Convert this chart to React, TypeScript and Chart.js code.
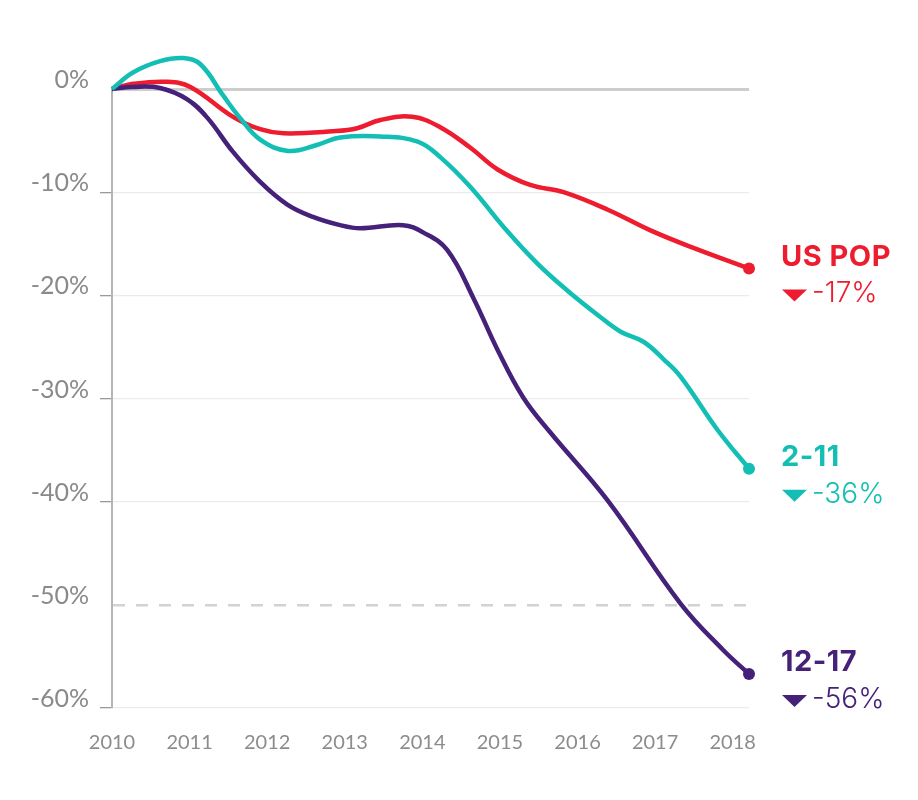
import { useEffect, useRef } from 'react';
import { Chart, registerables } from 'chart.js';

Chart.register(...registerables);

const YEARS = [2010, 2011, 2012, 2013, 2014, 2015, 2016, 2017, 2018];
const X_MIN = 2010;
const X_MAX = 2018.21;
const Y_MIN = -60;
const Y_MAX = 0;

const SERIES_NAMES = ['2-11', '12-17', 'US POP'];
const CHANGE_LABELS = ['-36%', '-56%', '-17%'];
const COLORS = ['#13BFB4', '#45217A', '#ED1C2E'];

const KIDS_X = [2010, 2010.27, 2010.62, 2010.92, 2011.14, 2011.43, 2011.65, 2011.91, 2012.27, 2012.65, 2012.94, 2013.46, 2013.94, 2014.23, 2014.62, 2015.05, 2015.48, 2015.91, 2016.26, 2016.55, 2016.85, 2017.11, 2017.33, 2017.81, 2018.21];
const KIDS_Y = [0, 1.6, 2.7, 3.0, 2.4, -0.6, -2.8, -4.9, -6.0, -5.4, -4.7, -4.6, -5.1, -6.6, -9.5, -13.4, -16.9, -19.8, -21.9, -23.5, -24.5, -26.2, -27.9, -33.1, -36.8];

const TEENS_X = [2010, 2010.27, 2010.62, 2010.97, 2011.23, 2011.56, 2011.91, 2012.26, 2012.59, 2012.94, 2013.2, 2013.75, 2014.01, 2014.32, 2014.66, 2014.97, 2015.3, 2015.65, 2016.39, 2017.33, 2017.88, 2018.21];
const TEENS_Y = [0, 0.2, 0.1, -1.0, -2.8, -6.1, -9.0, -11.2, -12.4, -13.2, -13.5, -13.2, -13.9, -15.6, -20.3, -25.3, -29.9, -33.3, -39.9, -49.9, -54.4, -56.7];

const POP_X = [2010, 2010.27, 2010.71, 2011.01, 2011.56, 2011.91, 2012.21, 2012.85, 2013.16, 2013.46, 2013.87, 2014.23, 2014.62, 2014.97, 2015.39, 2015.82, 2016.39, 2016.94, 2017.46, 2018.21];
const POP_Y = [0, 0.5, 0.7, 0.2, -2.7, -3.9, -4.3, -4.1, -3.8, -3.0, -2.7, -3.7, -5.7, -7.8, -9.3, -10.0, -11.7, -13.7, -15.3, -17.4];

const SERIES_X = [KIDS_X, TEENS_X, POP_X];
const SERIES_Y = [KIDS_Y, TEENS_Y, POP_Y];

const endLabels = {
  id: 'endLabels',
  afterDatasetsDraw(chart: any) {
    const ctx = chart.ctx;
    chart.data.datasets.forEach((ds: any, i: number) => {
      const meta = chart.getDatasetMeta(i);
      const pt = meta.data[meta.data.length - 1];
      if (!pt) return;
      const x = pt.x;
      const y = pt.y;
      const color = COLORS[i];
      ctx.save();
      ctx.fillStyle = color;
      ctx.textAlign = 'left';
      ctx.textBaseline = 'middle';
      (ctx as any).letterSpacing = '0.5px';
      ctx.font = '700 29px Inter, "Open Sans", sans-serif';
      ctx.fillText(SERIES_NAMES[i], x + 32, y - 11.5);
      (ctx as any).letterSpacing = '0px';
      ctx.beginPath();
      ctx.moveTo(x + 33, y + 21);
      ctx.lineTo(x + 58, y + 21);
      ctx.lineTo(x + 45.5, y + 33);
      ctx.closePath();
      ctx.fill();
      ctx.font = '300 28px Inter, "Open Sans", sans-serif';
      ctx.fillText(CHANGE_LABELS[i], x + 63, y + 25.5);
      ctx.restore();
    });
  },
};

export default function App() {
  const canvasRef = useRef<HTMLCanvasElement | null>(null);

  useEffect(() => {
    if (!canvasRef.current) return;
    const datasets = SERIES_NAMES.map((name, i) => {
      const xs = SERIES_X[i];
      const ys = SERIES_Y[i];
      const last = xs.length - 1;
      return {
        label: name,
        data: xs.map((x, j) => ({ x, y: ys[j] })),
        borderColor: COLORS[i],
        backgroundColor: COLORS[i],
        borderWidth: 4.5,
        tension: 0.4,
        pointRadius: (c: any) => (c.dataIndex === last ? 6 : 0),
        pointHoverRadius: 0,
        pointBorderWidth: 0,
        clip: false as const,
        fill: false,
      };
    });

    const chart = new Chart(canvasRef.current, {
      type: 'line',
      data: { datasets },
      plugins: [endLabels],
      options: {
        animation: false,
        responsive: true,
        maintainAspectRatio: false,
        layout: { padding: { left: 0, right: 169, top: 89, bottom: 0 } },
        plugins: {
          legend: { display: false },
          tooltip: { enabled: false },
        },
        scales: {
          x: {
            type: 'linear',
            min: X_MIN,
            max: X_MAX,
            afterBuildTicks: (scale: any) => {
              scale.ticks = YEARS.map((v) => ({ value: v }));
            },
            afterFit: (scale: any) => {
              scale.height = 92;
            },
            grid: { display: false, drawTicks: false },
            border: { display: false },
            ticks: {
              padding: 23,
              autoSkip: false,
              maxRotation: 0,
              color: '#8c8c8c',
              font: { family: 'Lato', size: 20 },
              callback: (v: any) => String(v),
            },
          },
          y: {
            type: 'linear',
            min: Y_MIN,
            max: Y_MAX,
            afterFit: (scale: any) => {
              scale.width = 112;
            },
            ticks: {
              stepSize: 10,
              padding: 11,
              labelOffset: -9,
              color: '#8a8a8a',
              font: { family: 'Lato', size: 25 },
              callback: (v: any) => v + '%',
            },
            grid: {
              color: (c: any) => {
                const v = c.tick?.value;
                if (v === 0) return '#cdcdcd';
                if (v === -50) return '#d3d3d3';
                return '#ebebeb';
              },
              lineWidth: (c: any) => {
                const v = c.tick?.value;
                if (v === 0) return 3;
                if (v === -50) return 2.5;
                return 1.3;
              },
              tickColor: (c: any) => {
                const v = c.tick?.value;
                if (v === 0 || v === -50) return 'rgba(0,0,0,0)';
                return '#9a9a9a';
              },
              tickLength: 12,
              tickWidth: 1.3,
            },
            border: {
              display: true,
              color: '#b5b5b5',
              width: 2,
              dash: (c: any) => (c.tick?.value === -50 ? [12, 11] : []),
            },
          },
        },
      } as any,
    });
    return () => chart.destroy();
  }, []);

  return (
    <div style={{ position: 'fixed', left: 0, top: 0, width: 918, height: 800, background: '#fff' }}>
      <canvas ref={canvasRef} />
    </div>
  );
}
